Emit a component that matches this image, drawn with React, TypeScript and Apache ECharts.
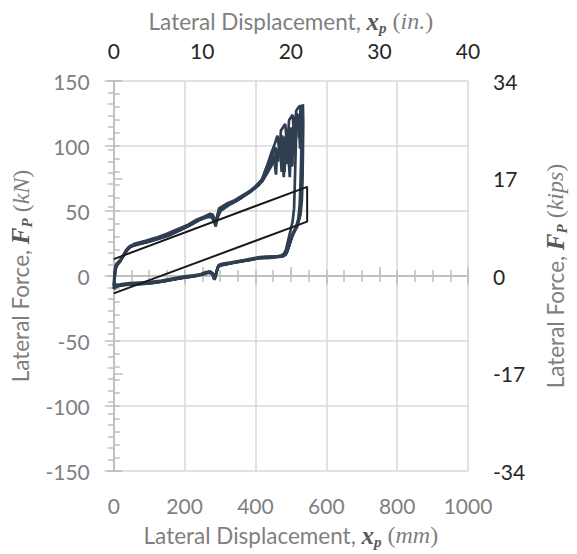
import React, { useEffect, useRef } from "react";
import * as echarts from "echarts";

// ---- Data (x: lateral displacement in mm, y: lateral force in kN) ----
const cycle1: number[][] = [
  [2, -8], [3, 0], [5, 6], [10, 9], [20, 12], [30, 17], [40, 21], [50, 23], [70, 24.5], [100, 26.5],
  [130, 29], [160, 32], [190, 35.5], [220, 40], [240, 43], [260, 45.5], [275, 46.5], [282, 44], [287, 40],
  [292, 46], [300, 51], [320, 54], [340, 57], [360, 60], [380, 64], [400, 68], [415, 72], [430, 80],
  [445, 88], [460, 95], [475, 100], [480, 76], [484, 102], [490, 105], [497, 76], [500, 108], [505, 112],
  [511, 92], [514, 116], [520, 120], [530, 127], [532, 130],
  [533, 120], [532, 100], [530, 80], [528, 60], [524, 45], [518, 38], [510, 34], [500, 28], [493, 22],
  [487, 17], [478, 15], [460, 14.5], [440, 14], [420, 14], [400, 13.5], [380, 12], [360, 11.5], [340, 10.5],
  [320, 9], [300, 8.5], [293, 6], [288, 1], [284, -2], [280, 2], [270, 3.5], [255, 2], [230, 0], [200, -1],
  [170, -2.5], [140, -4], [110, -5.5], [80, -6], [50, -6.5], [20, -7], [5, -8], [2, -10],
];
const cycle2: number[][] = [
  [1, -9], [2, -2], [4, 5], [8, 9], [15, 11], [25, 15], [35, 20], [45, 23], [60, 24], [90, 26],
  [120, 28.5], [150, 31.5], [180, 34.5], [210, 38.5], [235, 42], [255, 45], [270, 47], [278, 46], [284, 41],
  [289, 42], [296, 50], [310, 53], [330, 56], [350, 59], [370, 62], [390, 66], [410, 70], [420, 75],
  [432, 84], [444, 94], [455, 102], [462, 108], [468, 96], [472, 112], [484, 117], [490, 100], [495, 120],
  [505, 124], [510, 105], [515, 127], [522, 130], [527, 131],
  [529, 126], [530, 110], [529, 90], [527, 70], [525, 55], [521, 44], [514, 37], [505, 32], [497, 25],
  [490, 19], [483, 16], [470, 15], [450, 15], [430, 14.5], [410, 14], [390, 12.5], [370, 12], [350, 11],
  [330, 10], [305, 9], [295, 7.5], [290, 3], [286, -1], [282, 0], [275, 3], [260, 3], [240, 0.5], [210, -0.5],
  [180, -2], [150, -3.5], [120, -5], [90, -5.5], [60, -6], [30, -6.5], [10, -7.5], [1, -9],
];
const cycle3: number[][] = [
  [0, -10], [2, -3], [4, 4], [9, 8], [18, 11], [28, 16], [38, 20], [48, 22.5], [65, 24], [95, 26],
  [125, 28.5], [155, 31], [185, 35], [215, 39], [240, 43], [262, 45], [276, 45.5], [283, 42], [288, 38],
  [293, 45], [302, 50], [325, 54.5], [345, 57.5], [365, 61], [385, 64.5], [405, 69], [420, 73], [435, 80],
  [450, 87], [462, 92], [470, 97], [474, 80], [477, 99], [488, 104], [500, 108], [503, 84], [506, 110],
  [516, 116], [522, 122], [526, 98], [528, 126], [534, 132],
  [535, 118], [534, 95], [533, 75], [531, 58], [527, 47], [520, 40], [512, 36], [503, 30], [495, 23],
  [488, 18], [480, 15.5], [465, 15], [445, 14.5], [425, 14], [405, 13.5], [385, 12.5], [365, 11.5],
  [345, 10.5], [325, 9.5], [302, 8], [294, 7], [289, 2], [285, -3], [281, 1], [272, 3.5], [258, 1.5],
  [235, 0], [205, -1], [175, -2.5], [145, -4], [115, -5], [85, -6], [55, -6.5], [25, -7], [6, -8.5], [0, -10],
];
const cycle4: number[][] = [
  [1, -8], [3, 1], [6, 7], [12, 10], [22, 13], [32, 18], [42, 22], [55, 23.5], [80, 25.5], [110, 27.5],
  [140, 30.5], [170, 33.5], [200, 37], [228, 41], [250, 44.5], [268, 46.5], [279, 47.5], [285, 43],
  [290, 41], [298, 50.5], [315, 54], [335, 56.5], [355, 60], [375, 63], [395, 67], [412, 71], [428, 78],
  [442, 86], [452, 92], [458, 78], [461, 95], [472, 101], [485, 107], [490, 86], [494, 109], [505, 114],
  [510, 98], [513, 119], [516, 122],
  [515, 110], [513, 90], [511, 70], [509, 52], [505, 42], [499, 35], [492, 27], [486, 20], [480, 17],
  [470, 15.5], [455, 14.5], [435, 14], [415, 14], [395, 13], [375, 12], [355, 11], [335, 10],
  [312, 9], [297, 8], [291, 4], [287, -1], [283, -1], [277, 2.5], [265, 3], [245, 1], [220, -0.5],
  [190, -1.5], [160, -3], [130, -4.5], [100, -5.5], [70, -6], [40, -6.5], [15, -7.5], [1, -8],
];
const cycle5: number[][] = [
  [0, -7], [2, 2], [5, 8], [11, 10], [24, 14], [36, 19], [47, 23], [60, 25], [90, 27], [120, 29.5],
  [150, 32.5], [180, 36], [210, 39.5], [235, 43.5], [258, 46], [272, 48], [280, 46], [286, 42], [291, 44],
  [297, 52], [318, 55.5], [340, 58], [360, 61.5], [382, 65], [400, 69], [418, 74], [432, 84], [446, 92],
  [456, 99], [464, 88], [468, 104], [476, 108], [482, 80], [487, 110], [498, 114], [504, 85], [508, 119],
  [518, 125], [523, 106], [527, 128], [531, 131],
  [532, 124], [532, 106], [531, 86], [530, 66], [527, 52], [522, 43], [515, 38], [506, 33], [498, 26],
  [491, 20], [485, 16.5], [472, 15.5], [452, 15], [432, 15], [412, 14.5], [392, 13.5], [372, 12.5],
  [352, 11.5], [332, 10.5], [308, 9.5], [296, 8.5], [292, 5], [288, 0], [283, -2.5], [278, 1.5], [268, 2.5],
  [250, 1.5], [225, 0.5], [195, -0.5], [165, -2], [135, -3.5], [105, -4.5], [75, -5], [45, -5.5],
  [18, -6.5], [0, -7],
];
const cycles = [cycle1, cycle2, cycle3, cycle4, cycle5];

// Bilinear model loop
const modelLoop: number[][] = [[0, 13], [546, 68.6], [546, 41.8], [0, -13.4]];

// Axis ranges
const mmRange = [0, 1000];
const mmInterval = 200;
const inRange = [0, 40];
const inInterval = 10;
const kNRange = [-150, 150];
const kNInterval = 50;
const kipRange = [-34, 34];
const kipInterval = 17;

const sans = "Lato, 'Open Sans', sans-serif";
const serif = "'Liberation Serif', 'DejaVu Serif', serif";
const grayText = "#7f7f7f";
const mathText = "#595959";
const axisGray = "#bfbfbf";
const gridGray = "#d9d9d9";

const rich = {
  t: { fontFamily: sans, fontSize: 22.5, color: grayText },
  v: { fontFamily: serif, fontSize: 25, fontWeight: "bold", fontStyle: "italic", color: mathText },
  s: { fontFamily: serif, fontSize: 15, fontWeight: "bold", fontStyle: "italic", color: mathText, padding: [13, 0, 0, 0] },
  p: { fontFamily: serif, fontSize: 24, color: grayText },
  u: { fontFamily: serif, fontSize: 24, fontStyle: "italic", color: grayText },
};

const plain = (v: number) => String(v);

export default function App() {
  const ref = useRef<HTMLDivElement>(null);
  useEffect(() => {
    if (!ref.current) return;
    const chart = echarts.init(ref.current, undefined, { renderer: "svg" });
    const axisLine = { show: true, lineStyle: { color: axisGray, width: 1.5 } };
    const majorTick = { show: true, inside: false, length: 9, lineStyle: { color: axisGray, width: 1.5 } };
    const minorTick = { show: true, inside: true, length: 6, lineStyle: { color: axisGray, width: 1.5 } };
    const hidden = { show: false };
    const series: any[] = cycles.map((c) => ({
      type: "line",
      data: c,
      xAxisIndex: 0,
      yAxisIndex: 0,
      showSymbol: false,
      symbol: "none",
      lineStyle: { color: "#2f3e51", width: 2.7 },
      z: 3,
    }));
    series.push({
      type: "line",
      data: modelLoop,
      xAxisIndex: 0,
      yAxisIndex: 0,
      showSymbol: false,
      symbol: "none",
      lineStyle: { color: "#1a1a1a", width: 2 },
      z: 4,
    });
    chart.setOption({
      animation: false,
      grid: { left: 104, right: 89, top: 81, bottom: 81, containLabel: false },
      xAxis: [
        {
          type: "value", position: "bottom", min: mmRange[0], max: mmRange[1], interval: mmInterval,
          axisLine, axisTick: majorTick,
          axisLabel: { margin: 24, fontFamily: sans, fontSize: 21, color: grayText, formatter: plain },
          splitLine: { show: true, lineStyle: { color: gridGray, width: 1.5 } },
          name: "{t|Lateral Displacement, }{v|x}{s|p}{p| (}{u|mm}{p|)}",
          nameLocation: "middle", nameGap: 50, nameTextStyle: { rich },
        },
        {
          type: "value", position: "top", min: inRange[0], max: inRange[1], interval: inInterval,
          axisLine, axisTick: majorTick,
          axisLabel: { margin: 20, fontFamily: sans, fontSize: 21, color: "#262626", formatter: plain },
          splitLine: hidden,
          name: "{t|Lateral Displacement, }{v|x}{s|p}{p| (}{u|in.}{p|)}",
          nameLocation: "middle", nameGap: 39, nameTextStyle: { rich },
        },
        {
          type: "value", position: "bottom", min: mmRange[0], max: mmRange[1], interval: 50,
          axisLine: hidden, axisTick: minorTick, axisLabel: hidden, splitLine: hidden,
        },
        {
          type: "value", position: "top", min: mmRange[0], max: mmRange[1], interval: 50,
          axisLine: hidden, axisTick: minorTick, axisLabel: hidden, splitLine: hidden,
        },
      ],
      yAxis: [
        {
          type: "value", position: "left", min: kNRange[0], max: kNRange[1], interval: kNInterval,
          axisLine, axisTick: majorTick,
          axisLabel: { margin: 24, fontFamily: sans, fontSize: 21, color: grayText, formatter: plain },
          splitLine: { show: true, lineStyle: { color: gridGray, width: 1.5 } },
          name: "{t|Lateral Force, }{v|F}{s|P}{p| (}{u|kN}{p|)}",
          nameLocation: "middle", nameGap: 74, nameRotate: 90, nameTextStyle: { rich },
        },
        {
          type: "value", position: "right", min: kipRange[0], max: kipRange[1], interval: kipInterval,
          axisLine, axisTick: majorTick,
          axisLabel: { margin: 25, fontFamily: sans, fontSize: 21, color: "#262626", formatter: plain },
          splitLine: hidden,
          name: "{t|Lateral Force, }{v|F}{s|P}{p| (}{u|kips}{p|)}",
          nameLocation: "middle", nameGap: 73, nameRotate: 90, nameTextStyle: { rich },
        },
        {
          type: "value", position: "left", min: kNRange[0], max: kNRange[1], interval: 10,
          axisLine: hidden, axisTick: minorTick, axisLabel: hidden, splitLine: hidden,
        },
        {
          type: "value", position: "right", min: kipRange[0], max: kipRange[1], interval: 2,
          axisLine: hidden, axisTick: minorTick, axisLabel: hidden, splitLine: hidden,
        },
      ],
      series,
    });
    return () => chart.dispose();
  }, []);
  return (
    <div
      ref={ref}
      style={{ position: "fixed", left: 0, top: 0, width: 577, height: 554, background: "#fff" }}
    />
  );
}
